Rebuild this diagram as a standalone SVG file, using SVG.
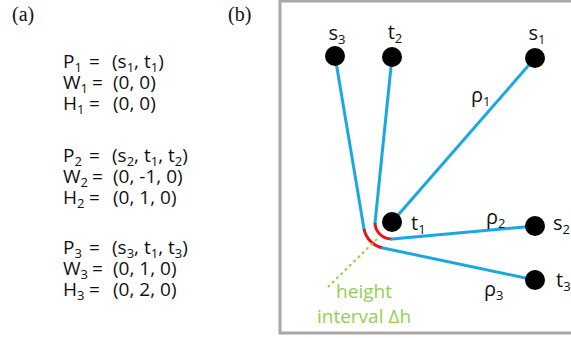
<svg xmlns="http://www.w3.org/2000/svg" width="571" height="338" viewBox="0 0 571 338">
<style>
.lbl{font-family:"Open Sans","Noto Sans","DejaVu Sans",sans-serif;font-size:19px;fill:#111}
.nl{font-family:"Open Sans","Noto Sans","DejaVu Sans",sans-serif;font-size:20px;fill:#111}
.sub{font-size:13px}
.cap{font-family:"Liberation Serif","Times New Roman",serif;font-size:20px;fill:#111}
.blue{stroke:#1aa8e2;stroke-width:3;fill:none;stroke-linecap:round}
.red{stroke:#e8141c;stroke-width:3;fill:none}
.dot{fill:#000}
.grn{font-family:"Open Sans","Noto Sans","DejaVu Sans",sans-serif;font-size:19px;fill:#92d050}
</style>
<rect width="571" height="338" fill="#fff"/>
<text class="cap" x="12" y="21">(a)</text>
<text class="cap" x="228" y="21">(b)</text>
<g id="formulas" class="lbl">
<text x="63" y="68">P<tspan class="sub" dy="4">1</tspan></text>
<text x="89" y="68">=</text>
<text x="112" y="68">(s<tspan class="sub" dy="4">1</tspan><tspan dy="-4">, t</tspan><tspan class="sub" dy="4">1</tspan><tspan dy="-4">)</tspan></text>
<text x="63" y="89">W<tspan class="sub" dy="4">1</tspan></text>
<text x="92" y="89">=</text>
<text x="113" y="89">(0, 0)</text>
<text x="63" y="110">H<tspan class="sub" dy="4">1</tspan></text>
<text x="89" y="110">=</text>
<text x="113" y="110">(0, 0)</text>
<text x="63" y="162">P<tspan class="sub" dy="4">2</tspan></text>
<text x="89" y="162">=</text>
<text x="112" y="162">(s<tspan class="sub" dy="4">2</tspan><tspan dy="-4">, t</tspan><tspan class="sub" dy="4">1</tspan><tspan dy="-4">, t</tspan><tspan class="sub" dy="4">2</tspan><tspan dy="-4">)</tspan></text>
<text x="63" y="183">W<tspan class="sub" dy="4">2</tspan></text>
<text x="92" y="183">=</text>
<text x="113" y="183">(0, -1, 0)</text>
<text x="63" y="204">H<tspan class="sub" dy="4">2</tspan></text>
<text x="89" y="204">=</text>
<text x="113" y="204">(0, 1, 0)</text>
<text x="63" y="254">P<tspan class="sub" dy="4">3</tspan></text>
<text x="89" y="254">=</text>
<text x="112" y="254">(s<tspan class="sub" dy="4">3</tspan><tspan dy="-4">, t</tspan><tspan class="sub" dy="4">1</tspan><tspan dy="-4">, t</tspan><tspan class="sub" dy="4">3</tspan><tspan dy="-4">)</tspan></text>
<text x="63" y="275">W<tspan class="sub" dy="4">3</tspan></text>
<text x="92" y="275">=</text>
<text x="113" y="275">(0, 1, 0)</text>
<text x="63" y="296">H<tspan class="sub" dy="4">3</tspan></text>
<text x="89" y="296">=</text>
<text x="113" y="296">(0, 2, 0)</text>
</g>
<rect id="frame" x="280" y="1" width="400" height="332" fill="none" stroke="#a8a8a8" stroke-width="3"/>
<g id="connectors">
<path class="blue" d="M335,56 L364,229"/>
<path class="red" d="M364,229 A24,24 0 0 0 383,248"/>
<path class="blue" d="M383,248 L535,280"/>
<path class="blue" d="M392,57 L375,223"/>
<path class="red" d="M375,223 A16.5,16.5 0 0 0 392,239"/>
<path class="blue" d="M392,239 L535,226"/>
<path class="blue" d="M535,58 L392,222"/>
<path d="M377,239 L328,287" stroke="#92d050" stroke-width="2" stroke-dasharray="3 3" fill="none"/>
</g>
<g id="s3"><circle class="dot" cx="335" cy="56" r="10"/><text class="nl" x="337" y="40" text-anchor="middle">s<tspan class="sub" dy="4">3</tspan></text></g>
<g id="t2"><circle class="dot" cx="392" cy="57" r="10"/><text class="nl" x="395" y="39" text-anchor="middle">t<tspan class="sub" dy="4">2</tspan></text></g>
<g id="s1"><circle class="dot" cx="535" cy="58" r="10"/><text class="nl" x="537" y="40" text-anchor="middle">s<tspan class="sub" dy="4">1</tspan></text></g>
<g id="t1"><circle class="dot" cx="392" cy="222" r="10"/><text class="nl" x="411" y="230">t<tspan class="sub" dy="4">1</tspan></text></g>
<g id="s2"><circle class="dot" cx="535" cy="226" r="10"/><text class="nl" x="553" y="230">s<tspan class="sub" dy="4">2</tspan></text></g>
<g id="t3"><circle class="dot" cx="535" cy="280" r="10"/><text class="nl" x="556" y="287">t<tspan class="sub" dy="4">3</tspan></text></g>
<g id="labels" class="nl">
<text x="471" y="102">ρ<tspan class="sub" dy="4">1</tspan></text>
<text x="486" y="224">ρ<tspan class="sub" dy="4">2</tspan></text>
<text x="484" y="296">ρ<tspan class="sub" dy="4">3</tspan></text>
</g>
<g id="note" class="grn" text-anchor="middle">
<text x="364" y="298">height</text>
<text x="364" y="323">interval Δh</text>
</g>
</svg>
